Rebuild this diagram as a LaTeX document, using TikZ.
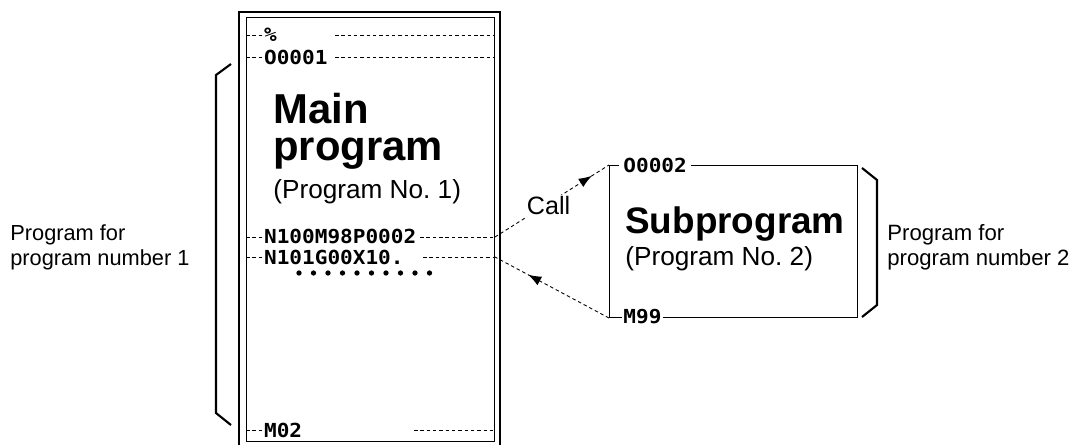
\documentclass[tikz,border=0pt]{standalone}
\usepackage{fontspec}
\setmainfont{Liberation Sans}
\newfontfamily\codefont[FakeStretch=1.09]{DejaVu Sans Mono}
\usetikzlibrary{arrows.meta, decorations.markings}

\begin{document}
\begin{tikzpicture}[
    x=0.02cm, y=-0.02cm,
    >=Latex,
    code/.style={font=\codefont\bfseries\fontsize{11}{13}\selectfont, inner sep=1pt, anchor=west},
    lead/.style={dash pattern=on 2pt off 1.6pt, line width=0.5pt},
    brace/.style={line width=1.2pt},
    flowmark/.style={postaction={decorate}, decoration={markings,
        mark=at position #1 with {\arrow{Latex[length=7.5pt,width=5.5pt]}}}},
    bigtitle/.style={font=\bfseries\fontsize{23.8}{21}\selectfont, align=left, inner sep=0pt, anchor=base west},
    subtitle/.style={font=\fontsize{14.9}{17}\selectfont, inner sep=0pt, anchor=base west},
    sidetext/.style={font=\fontsize{12.4}{14.2}\selectfont, align=left, inner sep=0pt, anchor=base west}
  ]
    \useasboundingbox (0,0) rectangle (1087,444);

    % main program listing
    \draw[line width=1.2pt] (239,446) |- (500,12) -- (500,446);
    \node[draw, line width=0.6pt, minimum width=4.96cm, minimum height=8.48cm,
          anchor=north west, inner sep=0pt] (listing) at (246,17) {};

    \node[code] (pct) at (262,35) {\%};
    \node[code] (o1) at (262,57) {O0001};
    \node[code] (n100) at (262,237) {N100M98P0002};
    \node[code] (n101) at (262,257) {N101G00X10.};
    \node[code] (m02) at (262,430) {M02};
    \foreach \n in {pct,o1,n100,n101,m02}
      \draw[lead] (listing.west |- \n) -- (\n.west);
    \draw[lead] (335,35) -- (listing.east |- pct);
    \draw[lead] (335,57) -- (listing.east |- o1);
    \draw[lead] ([xshift=1pt]n100.east) -- (listing.east |- n100);
    \draw[lead] (423,257) -- (listing.east |- n101);
    \draw[lead] (414,430) -- (listing.east |- m02);
    \foreach \i in {0,...,9}
      \fill (299+14.5*\i,273) circle (1.5pt);

    \node[bigtitle] (maintitle) at (273,160) {Main\\program};
    \node[subtitle] (mainno) at (273,198) {(Program No.~1)};

    % subprogram
    \node[draw, line width=0.6pt, minimum width=4.96cm, minimum height=3.04cm,
          anchor=north west, inner sep=0pt] (sub) at (609,165) {};
    \node[code, fill=white, inner xsep=2.3pt] (o2) at (619,165) {O0002};
    \node[code, fill=white, inner xsep=0.6pt] (m99) at (622,317) {M99};
    \node[bigtitle, font=\bfseries\fontsize{21}{21}\selectfont] (subtitle) at (625,233) {Subprogram};
    \node[subtitle] (subno) at (625,265) {(Program No.~2)};

    % call and return
    \draw[lead, flowmark=0.85] (listing.east |- n100) --
      node[pos=0.47, fill=white, inner sep=1pt, yshift=-1.5pt, font=\fontsize{14.3}{16}\selectfont] (call) {Call}
      (sub.north west);
    \draw[lead, flowmark=0.71] (sub.south west) -- (listing.east |- n101);

    % brackets
    \draw[brace] (231,64) -- (216,75) -- (216,413) -- (231,425);
    \draw[brace] (862,168) -- (877,180) -- (877,305) -- (862,317);
    \node[sidetext] (prog1) at (10,265) {Program for\\program number 1};
    \node[sidetext, font=\fontsize{12.6}{14.2}\selectfont] (prog2) at (887,265) {Program for\\program number 2};
\end{tikzpicture}
\end{document}
